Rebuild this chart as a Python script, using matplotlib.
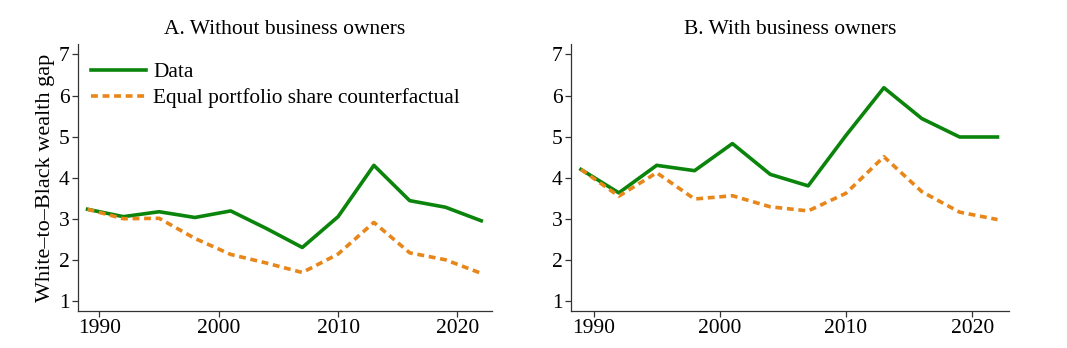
import matplotlib
matplotlib.use("Agg")
import matplotlib.pyplot as plt

plt.rcParams['font.family'] = ['Liberation Serif', 'DejaVu Serif']

years = [1989, 1992, 1995, 1998, 2001, 2004, 2007, 2010, 2013, 2016, 2019, 2022]

# Panel A: without business owners
data_a = [3.23, 3.05, 3.17, 3.03, 3.19, 2.76, 2.30, 3.05, 4.30, 3.44, 3.28, 2.95]
cf_a = [3.23, 3.00, 3.01, 2.52, 2.13, 1.92, 1.69, 2.14, 2.91, 2.17, 2.00, 1.67]

# Panel B: with business owners
data_b = [4.20, 3.63, 4.30, 4.17, 4.83, 4.08, 3.80, 5.03, 6.19, 5.44, 4.99, 4.99]
cf_b = [4.20, 3.55, 4.12, 3.48, 3.56, 3.29, 3.19, 3.62, 4.51, 3.66, 3.16, 2.98]

titles = ["A. Without business owners", "B. With business owners"]
green = '#0b840b'
orange = '#e8861a'

fig = plt.figure(figsize=(10.67, 3.48), dpi=100)
ax1 = fig.add_axes([0.0731, 0.106, 0.388, 0.767])
ax2 = fig.add_axes([0.535, 0.106, 0.4105, 0.767])

for ax, d, c, t in [(ax1, data_a, cf_a, titles[0]), (ax2, data_b, cf_b, titles[1])]:
    ax.plot(years, d, color=green, lw=2.6, label='Data')
    ax.plot(years, c, color=orange, lw=2.6, dashes=(1.9, 1.3), label='Equal portfolio share counterfactual')
    ax.set_xlim(1988.2, 2022.9)
    ax.set_ylim(0.75, 7.25)
    ax.set_yticks(range(1, 8))
    ax.set_xticks([1990, 2000, 2010, 2020])
    ax.spines['top'].set_visible(False)
    ax.spines['right'].set_visible(False)
    for s in ['left', 'bottom']:
        ax.spines[s].set_color('#333333')
        ax.spines[s].set_linewidth(0.9)
    ax.tick_params(labelsize=15.5, length=4, width=0.9, color='#333333', pad=2)
    ax.set_title(t, fontsize=15.5, pad=7)

ax1.set_ylabel('White\u2013to\u2013Black wealth gap', fontsize=16, labelpad=3)
ax1.legend(loc='upper left', frameon=False, fontsize=15.3, handlelength=2.6,
           handletextpad=0.35, labelspacing=0.3, borderaxespad=0.2,
           bbox_to_anchor=(0.0, 0.98))

fig.savefig('out.png', dpi=100)
